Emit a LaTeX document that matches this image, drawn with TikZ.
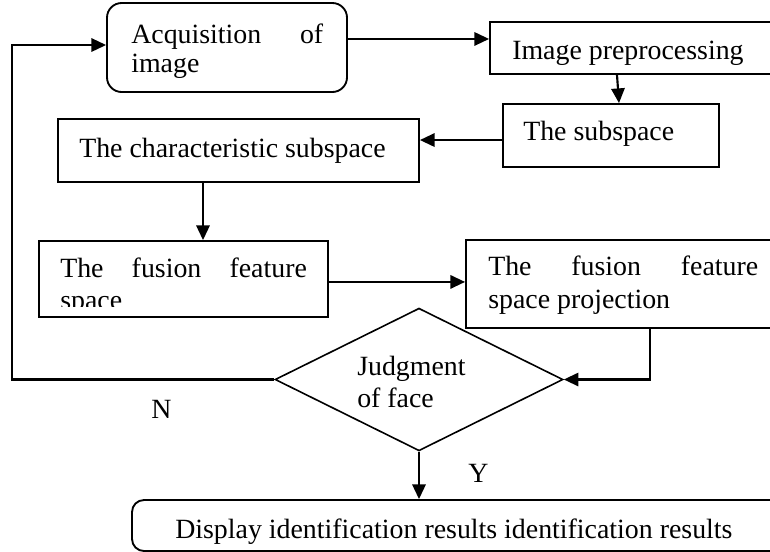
\documentclass[tikz,border=0pt]{standalone}
\usepackage{fontspec}
\setmainfont{Liberation Serif}
\usetikzlibrary{arrows.meta,shapes.geometric,fit,calc}
\begin{document}
\begin{tikzpicture}[x=0.75pt,y=-0.75pt,
  box/.style={draw,line width=1.4pt,inner sep=0pt},
  rbox/.style={box,rounded corners=11pt},
  txt/.style={inner sep=0pt,anchor=base west,font=\fontsize{20.9}{22}\selectfont},
  arr/.style={line width=1.6pt,-{Triangle[length=11pt,width=10pt]}},
  conn/.style={line width=1.6pt}]
\useasboundingbox (0,0) rectangle (770,551);
\clip (0,0) rectangle (770,551);
% boxes
\node[rbox,fit={(107,3)(347,92)}] (acq) {};
\node[box,fit={(490,22)(790,74)}] (pre) {};
\node[box,fit={(503,104)(719,167)}] (sub) {};
\node[box,fit={(58,119)(419,182)}] (cha) {};
\node[box,fit={(39,241)(328,317)}] (fus) {};
\node[box,fit={(466,240)(790,328)}] (proj) {};
\node[draw,diamond,line width=1.2pt,inner sep=0pt,minimum width=216pt,minimum height=107pt] (dia) at (419,379.5) {};
\node[rbox,rounded corners=9pt,fit={(132,500)(800,551)}] (disp) {};
% texts
\node[txt] (tacq1) at (131,43) {\makebox[144pt]{Acquisition\hfill of}};
\node[txt] (tacq2) at (131,72) {image};
\node[txt] (tpre) at (512,59) {Image preprocessing};
\node[txt] (tsub) at (523,140) {The subspace};
\node[txt] (tcha) at (79,157) {The characteristic subspace};
\node[txt] (tfus1) at (60,277) {\makebox[185pt]{The\hfill fusion\hfill feature}};
\begin{scope}
\clip (39,241) rectangle (328,306.5);
\node[txt] (tfus2) at (60,309) {space};
\end{scope}
\node[txt] (tproj1) at (488,275) {\makebox[202.5pt]{The\hfill fusion\hfill feature}};
\node[txt] (tproj2) at (488,308) {space projection};
\node[txt] (tdia1) at (357,375) {Judgment};
\node[txt] (tdia2) at (357,407) {of face};
\node[txt] (tn) at (151,418) {N};
\node[txt] (ty) at (468,482) {Y};
\node[txt] (tdisp) at (175,538) {Display identification results identification results};
% connectors
\coordinate (c1) at (12,45);
\coordinate (c2) at (12,379.5);
\draw[arr] (dia.west) -- (c2) -- (c1) -- (c1 -| acq.west);
\draw[arr] ([yshift=6.4pt]acq.east) -- ([yshift=6.4pt]acq.east -| pre.west);
\draw[arr] ($(pre.south)+(-23,0)$) -- ($(sub.north)+(8,0)$);
\draw[arr] ([yshift=-3.4pt]sub.west) -- ([yshift=-3.4pt]sub.west -| cha.east);
\coordinate (p5) at ($(cha.south)+(-35.5,0)$);
\draw[arr] (p5) -- (p5 |- fus.north);
\draw[arr] ([yshift=-2.2pt]fus.east) -- ([yshift=-2.2pt]fus.east -| proj.west);
\coordinate (p7) at ($(proj.south)+(22,0)$);
\draw[arr] (p7) |- (dia.east);
\draw[arr] (dia.south) -- (dia.south |- disp.north);
\end{tikzpicture}
\end{document}
